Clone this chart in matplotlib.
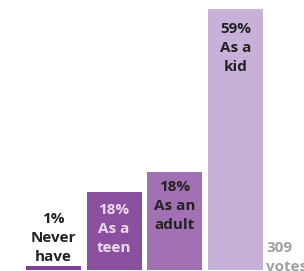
import matplotlib
matplotlib.use("Agg")
import matplotlib.pyplot as plt

categories = ["Never\nhave", "As a\nteen", "As an\nadult", "As a\nkid"]
percent_labels = [1, 18, 18, 59]
bar_heights = [1, 17.6, 22.2, 59]
votes = 309

colors = ["#7e3f98", "#8b4f9f", "#a271b3", "#c8b1d9"]
text_colors = ["#222222", "#eadcf0", "#222222", "#222222"]
label_offsets = [None, -11, -8, -13]  # pixels from bar top (None = above bar)

plt.rcParams['font.family'] = ['Open Sans', 'DejaVu Sans']
FS = 11
LS = 1.45

fig = plt.figure(figsize=(3.04, 2.71), dpi=100)
ax = fig.add_axes([0, 0, 1, 1])
ax.set_xlim(-0.882, 4.129)
ax.set_ylim(-0.226, 61.09)
ax.axis('off')

xs = list(range(len(categories)))
ax.bar(xs, bar_heights, width=0.906, color=colors, linewidth=0)

for i, (x, h) in enumerate(zip(xs, bar_heights)):
    txt = f"{percent_labels[i]}%\n{categories[i]}"
    if label_offsets[i] is None:
        ax.annotate(txt, (x, h), xytext=(0, 2), textcoords='offset pixels',
                    ha='center', va='bottom', fontsize=FS, fontweight='bold',
                    color=text_colors[i], linespacing=LS)
    else:
        ax.annotate(txt, (x, h), xytext=(0, label_offsets[i]), textcoords='offset pixels',
                    ha='center', va='top', fontsize=FS, fontweight='bold',
                    color=text_colors[i], linespacing=LS)

ax.annotate(f"{votes}\nvotes", (xs[-1] + 0.453, 0), xytext=(3, 29), textcoords='offset pixels',
            ha='left', va='top', fontsize=FS, fontweight='bold', color='#a0a0a0',
            linespacing=LS, annotation_clip=False)

fig.savefig("out.png", dpi=100)
